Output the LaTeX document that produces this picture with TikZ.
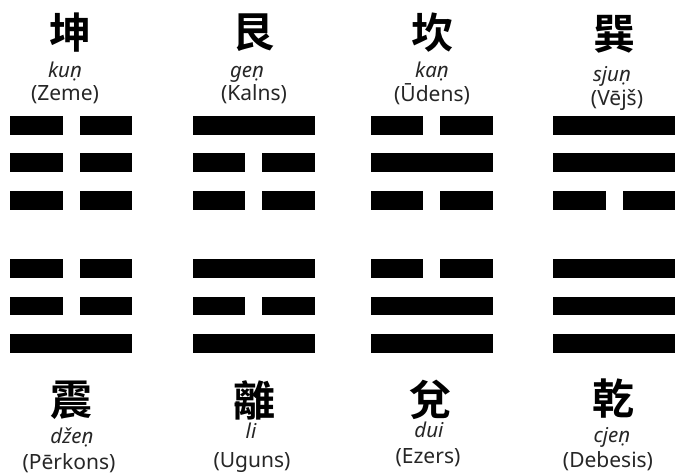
\documentclass[tikz,border=0pt]{standalone}
\usepackage{fontspec}
\setmainfont{Noto Sans}
\newfontfamily\cjk{Noto Sans CJK TC Bold}
\begin{document}
\begin{tikzpicture}[x=1pt,y=-1pt,
  hanzi/.style={font=\cjk\fontsize{42}{42}\selectfont, inner sep=0pt, anchor=center, text=black},
  pinyin/.style={font=\itshape\fontsize{20.5}{20.5}\selectfont, inner sep=0pt, anchor=base, text=black!85},
  latv/.style={font=\fontsize{21}{21}\selectfont, inner sep=0pt, anchor=base, text=black!85},
  barfill/.style={fill=black}]
\useasboundingbox (0,0) rectangle (675,475);
\newcommand\yangln[2]{\fill[barfill] (#1,#2) rectangle ++(122,18.6);}
\newcommand\yinln[2]{\fill[barfill] (#1,#2) rectangle ++(52.5,18.6);
  \fill[barfill] (#1+69.5,#2) rectangle ++(52.5,18.6);}
% column 1: kun / zhen
\yinln{10}{116}\yinln{10}{153.3}\yinln{10}{191}
\yinln{10}{259}\yinln{10}{296.7}\yangln{10}{334.3}
% column 2: gen / li
\yangln{192.7}{116}\yinln{192.7}{153.3}\yinln{192.7}{191}
\yangln{192.7}{259}\yinln{192.7}{296.7}\yangln{192.7}{334.3}
% column 3: kan / dui
\yinln{370.7}{116}\yangln{370.7}{153.3}\yinln{370.7}{191}
\yinln{370.7}{259}\yangln{370.7}{296.7}\yangln{370.7}{334.3}
% column 4: xun / qian
\yangln{553.3}{116}\yangln{553.3}{153.3}\yinln{553.3}{191}
\yangln{553.3}{259}\yangln{553.3}{296.7}\yangln{553.3}{334.3}
% top labels
\node[hanzi] (h1) at (70,33) {坤};
\node[pinyin] (p1) at (65,77) {kuṇ};
\node[latv] (l1) at (65,100) {(Zeme)};
\node[hanzi] (h2) at (253,33) {艮};
\node[pinyin] (p2) at (247,77) {geṇ};
\node[latv] (l2) at (254,100) {(Kalns)};
\node[hanzi] (h3) at (432,33) {坎};
\node[pinyin] (p3) at (432,77) {kaṇ};
\node[latv] (l3) at (432,101) {(Ūdens)};
\node[hanzi] (h4) at (614,34.5) {巽};
\node[pinyin] (p4) at (612,81) {sjuṇ};
\node[latv] (l4) at (617,105) {(Vējš)};
% bottom labels
\node[hanzi] (h5) at (71,400) {震};
\node[pinyin] (p5) at (72,443) {džeṇ};
\node[latv] (l5) at (69,469) {(Pērkons)};
\node[hanzi] (h6) at (254,400) {離};
\node[pinyin] (p6) at (251,438) {li};
\node[latv] (l6) at (252,467) {(Uguns)};
\node[hanzi] (h7) at (430,400) {兌};
\node[pinyin] (p7) at (429,437) {dui};
\node[latv] (l7) at (428,463) {(Ezers)};
\node[hanzi] (h8) at (613,399) {乾};
\node[pinyin] (p8) at (612,442) {cjeṇ};
\node[latv] (l8) at (608,467) {(Debesis)};
\end{tikzpicture}
\end{document}
